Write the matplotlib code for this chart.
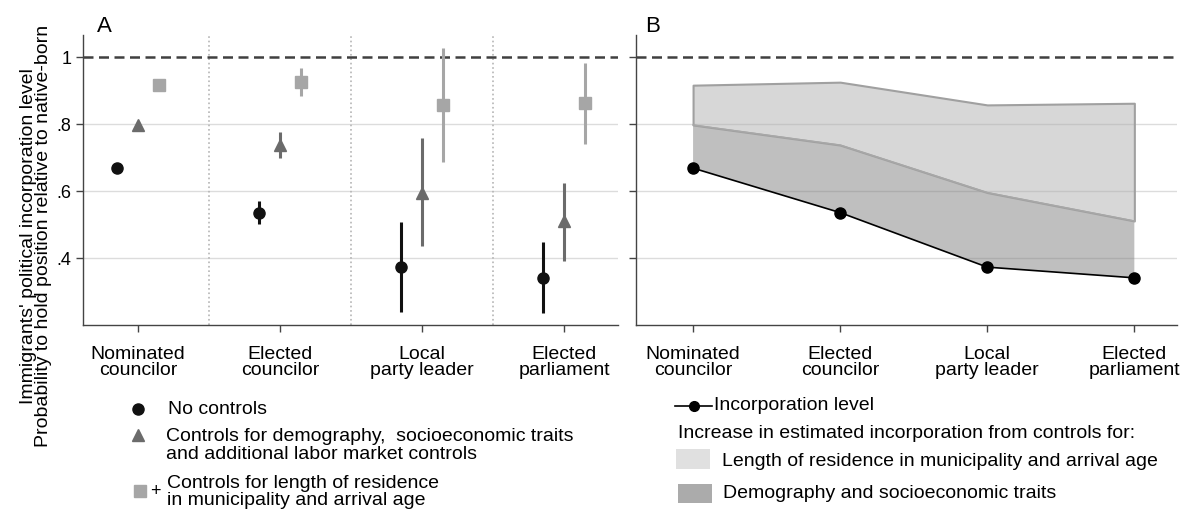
import numpy as np
import matplotlib
matplotlib.use("Agg")
import matplotlib.pyplot as plt
from matplotlib.lines import Line2D
from matplotlib.patches import Rectangle

plt.rcParams["font.family"] = ["Liberation Sans", "DejaVu Sans"]

categories = ["Nominated\ncouncilor", "Elected\ncouncilor", "Local\nparty leader", "Elected\nparliament"]

# point estimates and confidence intervals
no_ctrl = [0.669, 0.536, 0.373, 0.341]
no_ctrl_lo = [0.662, 0.502, 0.238, 0.236]
no_ctrl_hi = [0.676, 0.572, 0.509, 0.447]

demo = [0.798, 0.738, 0.596, 0.511]
demo_lo = [0.785, 0.698, 0.435, 0.390]
demo_hi = [0.810, 0.778, 0.758, 0.626]

resid = [0.917, 0.926, 0.858, 0.863]
resid_lo = [0.908, 0.885, 0.688, 0.742]
resid_hi = [0.927, 0.967, 1.029, 0.984]

yticks = [0.4, 0.6, 0.8, 1.0]
ytick_labels = [".4", ".6", ".8", "1"]

W, H = 1196, 514
fig = plt.figure(figsize=(W / 100, H / 100), dpi=100)


def fx(px):
    return px / W


def fy(py):
    return 1 - py / H


axA = fig.add_axes([fx(83), fy(325), fx(618 - 83), (325 - 35) / H])
axB = fig.add_axes([fx(636), fy(325), fx(1177 - 636), (325 - 35) / H])

x = np.arange(1, len(categories) + 1)
off = 0.15
c_black, c_mid, c_light = "#111111", "#6b6b6b", "#a6a6a6"

for ax in (axA, axB):
    for s in ("top", "right"):
        ax.spines[s].set_visible(False)
    for s in ("left", "bottom"):
        ax.spines[s].set_color("#444444")
        ax.spines[s].set_linewidth(1.0)
    ax.set_ylim(0.2, 1.067)
    ax.set_yticks(yticks)
    ax.tick_params(axis="both", length=5, width=1, color="#444444")
    for yv in yticks[:-1]:
        ax.axhline(yv, color="#dcdcdc", lw=1, zorder=0)
    ax.axhline(1.0, color="#404040", lw=1.8, linestyle=(0, (4.0, 2.2)), zorder=1)
    ax.set_xticks(x)
    ax.set_xticklabels(categories, fontsize=14, linespacing=0.95)
    ax.tick_params(axis="x", pad=10)

axA.set_xlim(0.613, 4.38)
axB.set_xlim(0.612, 4.29)
axA.set_yticklabels(ytick_labels, fontsize=13)
axB.set_yticklabels([])

# panel A: separators
for sep in (1.5, 2.5, 3.5):
    axA.axvline(sep, color="#b5b5b5", linestyle=":", lw=1.2, zorder=0)

series = [
    (no_ctrl, no_ctrl_lo, no_ctrl_hi, -off, "o", c_black, 8),
    (demo, demo_lo, demo_hi, 0.0, "^", c_mid, 8),
    (resid, resid_lo, resid_hi, off, "s", c_light, 8),
]
for vals, lo, hi, dx, mk, col, ms in series:
    vals = np.array(vals)
    err = [vals - np.array(lo), np.array(hi) - vals]
    axA.errorbar(x + dx, vals, yerr=err, fmt=mk, color=col, ecolor=col,
                 elinewidth=2.2, capsize=0, ms=ms, zorder=3)

axA.text(0.026, 1.028, "A", transform=axA.transAxes, fontsize=16, va="center")

# panel B: shaded increments
axB.fill_between(x, no_ctrl, demo, facecolor=(0.5, 0.5, 0.5, 0.5), edgecolor="none", zorder=2)
axB.fill_between(x, demo, resid, facecolor=(0.69, 0.69, 0.69, 0.5),
                 edgecolor="#a0a0a0", lw=1.5, zorder=2)
axB.plot(x, demo, color="#a8a8a8", lw=1.0, zorder=2)
axB.plot(x, no_ctrl, color="black", lw=1.2, marker="o", ms=8, zorder=4)
axB.text(0.017, 1.028, "B", transform=axB.transAxes, fontsize=16, va="center")

# y label
fig.text(fx(36), fy(236), "Immigrants' political incorporation level\n"
         "Probability to hold position relative to native-born",
         rotation=90, ha="center", va="center", fontsize=14, linespacing=0.9)

# legend A
fs = 14
fig.add_artist(Line2D([fx(138)], [fy(409)], marker="o", color=c_black, ms=8,
                      transform=fig.transFigure))
fig.text(fx(168), fy(409), "No controls", fontsize=fs, va="center")
fig.add_artist(Line2D([fx(138)], [fy(435)], marker="^", color=c_mid, ms=8,
                      transform=fig.transFigure))
fig.text(fx(166), fy(445.5), "Controls for demography,  socioeconomic traits\n"
         "and additional labor market controls", fontsize=fs, va="center",
         linespacing=1.08)
fig.add_artist(Line2D([fx(140)], [fy(491)], marker="s", color=c_light, ms=8,
                      transform=fig.transFigure))
fig.text(fx(155), fy(491), "+", fontsize=13, va="center", ha="center")
fig.text(fx(167), fy(492), "Controls for length of residence\n"
         "in municipality and arrival age", fontsize=fs, va="center",
         linespacing=1.05)

# legend B
fig.add_artist(Line2D([fx(675), fx(712)], [fy(406), fy(406)], color="black", lw=1.2,
                      transform=fig.transFigure))
fig.add_artist(Line2D([fx(694)], [fy(406)], marker="o", color="black", ms=7,
                      transform=fig.transFigure))
fig.text(fx(714), fy(406), "Incorporation level", fontsize=fs, va="center")
fig.text(fx(678), fy(434), "Increase in estimated incorporation from controls for:",
         fontsize=fs, va="center")
fig.add_artist(Rectangle((fx(676), fy(469)), fx(34), 20 / H, transform=fig.transFigure,
                         facecolor="#e0e0e0", edgecolor="none"))
fig.text(fx(722), fy(462), "Length of residence in municipality and arrival age",
         fontsize=fs, va="center")
fig.add_artist(Rectangle((fx(678), fy(503)), fx(34), 19 / H, transform=fig.transFigure,
                         facecolor="#ababab", edgecolor="none"))
fig.text(fx(723), fy(493), "Demography and socioeconomic traits", fontsize=fs, va="center")

fig.savefig("out.png", dpi=100)
